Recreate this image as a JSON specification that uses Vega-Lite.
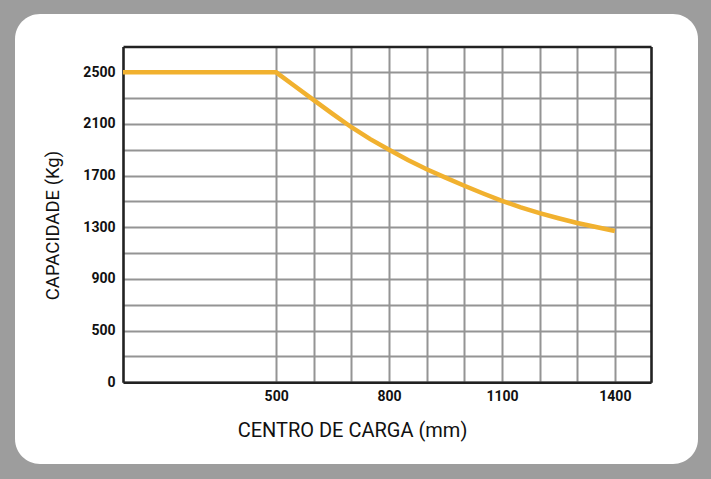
{
  "$schema": "https://vega.github.io/schema/vega-lite/v6.json",
  "width": 683,
  "height": 450,
  "autosize": {"type": "none"},
  "padding": {"left": 15, "top": 14, "right": 13, "bottom": 15},
  "background": "#9d9d9d",
  "config": {
    "view": {"fill": "white", "stroke": null, "cornerRadius": 25},
    "axis": {
      "labelFont": "Roboto",
      "labelFontWeight": "bold",
      "labelFontSize": 14,
      "labelColor": "#111111",
      "titleFont": "Roboto",
      "titleFontWeight": "normal",
      "titleColor": "#111111",
      "gridColor": "#949494",
      "gridWidth": 2,
      "gridOpacity": 1,
      "domainColor": "#222222",
      "domainWidth": 2.6,
      "ticks": false,
      "labelFlush": false,
      "labelOverlap": false,
      "labelBound": false
    }
  },
  "data": {
    "values": [
      {"centro": 93, "capacidade": 2500},
      {"centro": 500, "capacidade": 2500},
      {"centro": 550, "capacidade": 2392},
      {"centro": 600, "capacidade": 2285},
      {"centro": 650, "capacidade": 2178},
      {"centro": 700, "capacidade": 2075},
      {"centro": 750, "capacidade": 1983},
      {"centro": 800, "capacidade": 1900},
      {"centro": 850, "capacidade": 1822},
      {"centro": 900, "capacidade": 1750},
      {"centro": 950, "capacidade": 1685},
      {"centro": 1000, "capacidade": 1622},
      {"centro": 1050, "capacidade": 1562},
      {"centro": 1100, "capacidade": 1505},
      {"centro": 1150, "capacidade": 1455},
      {"centro": 1200, "capacidade": 1410},
      {"centro": 1250, "capacidade": 1370},
      {"centro": 1300, "capacidade": 1333},
      {"centro": 1350, "capacidade": 1302},
      {"centro": 1400, "capacidade": 1272}
    ]
  },
  "layer": [
    {
      "mark": {"type": "line", "strokeOpacity": 0},
      "encoding": {
        "x": {
          "field": "centro",
          "type": "quantitative",
          "scale": {"domain": [93, 1496], "range": [108, 636], "nice": false, "zero": false},
          "axis": {
            "orient": "top",
            "offset": -32.5,
            "values": [500, 600, 700, 800, 900, 1000, 1100, 1200, 1300, 1400],
            "labels": false,
            "grid": true,
            "domain": true,
            "title": null
          }
        },
        "y": {
          "field": "capacidade",
          "type": "quantitative",
          "scale": {"domain": [100, 2700], "range": [368.3, 32.5], "nice": false, "zero": false},
          "axis": {"orient": "right", "offset": -47, "labels": false, "grid": false, "domain": true, "title": null}
        }
      }
    },
    {
      "mark": {"type": "line", "color": "#F1B12F", "strokeWidth": 4.5, "strokeCap": "butt"},
      "encoding": {
        "x": {
          "field": "centro",
          "type": "quantitative",
          "scale": {"domain": [93, 1496], "range": [108, 636], "nice": false, "zero": false},
          "axis": {
            "orient": "bottom",
            "offset": -81.7,
            "values": [500, 600, 700, 800, 900, 1000, 1100, 1200, 1300, 1400],
            "format": "d",
            "labelExpr": "(datum.value - 500) % 300 == 0 ? datum.label : ''",
            "labelPadding": 7,
            "grid": false,
            "domain": true,
            "title": "CENTRO DE CARGA (mm)",
            "titleFontSize": 20,
            "titlePadding": 17,
            "titleX": 337
          }
        },
        "y": {
          "field": "capacidade",
          "type": "quantitative",
          "scale": {"domain": [100, 2700], "range": [368.3, 32.5], "nice": false, "zero": false},
          "axis": {
            "orient": "left",
            "offset": -108,
            "values": [100, 300, 500, 700, 900, 1100, 1300, 1500, 1700, 1900, 2100, 2300, 2500],
            "format": "d",
            "labelExpr": "datum.value == 100 ? '0' : ((datum.value - 100) % 400 == 0 ? datum.label : '')",
            "labelPadding": 8,
            "grid": true,
            "domain": true,
            "title": "CAPACIDADE (Kg)",
            "titleFontSize": 18.5,
            "titlePadding": 20,
            "titleY": 211
          }
        }
      }
    }
  ],
  "resolve": {"axis": {"x": "independent", "y": "independent"}}
}
